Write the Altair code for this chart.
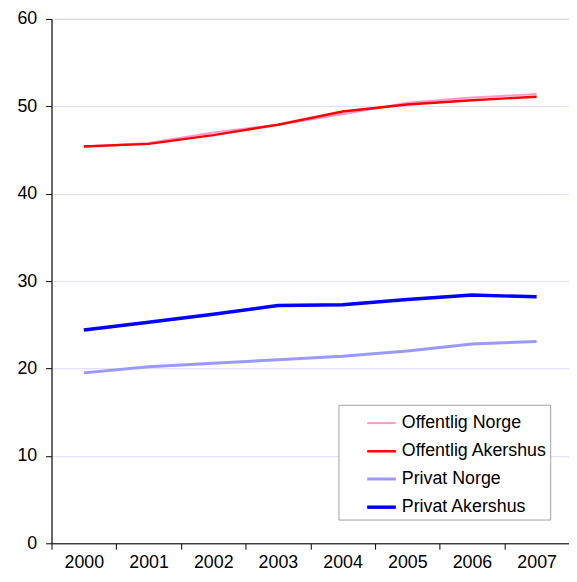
import altair as alt
import pandas as pd

years = ["2000", "2001", "2002", "2003", "2004", "2005", "2006", "2007"]
series_names = ["Offentlig Norge", "Offentlig Akershus", "Privat Norge", "Privat Akershus"]
offentlig_norge = [45.4, 45.8, 47.0, 47.9, 49.1, 50.4, 51.0, 51.4]
offentlig_akershus = [45.4, 45.7, 46.7, 47.9, 49.4, 50.2, 50.7, 51.1]
privat_norge = [19.5, 20.2, 20.6, 21.0, 21.4, 22.0, 22.8, 23.1]
privat_akershus = [24.4, 25.3, 26.2, 27.2, 27.3, 27.9, 28.4, 28.2]
colors = ["#FF99CC", "#FF0000", "#9999FF", "#0000FF"]
widths = [2, 3.5, 2, 3.5]
y_ticks = [0, 10, 20, 30, 40, 50, 60]

rows = []
for name, vals in zip(series_names,
                      [offentlig_norge, offentlig_akershus, privat_norge, privat_akershus]):
    for yr, v in zip(years, vals):
        rows.append({"year": yr, "value": v, "serie": name})
df = pd.DataFrame(rows)

FONT = "Liberation Sans"

legend = alt.Legend(
    title=None, orient="none", legendX=290, legendY=390,
    symbolType="stroke", symbolSize=841, symbolOffset=24,
    labelFontSize=18, labelFont=FONT, labelColor="black", labelLimit=400,
    labelOffset=4, rowPadding=3, padding=3,
    strokeColor="#A0A0A0", fillColor="white",
    labelExpr="datum.label + '\u00a0\u00a0\u00a0\u00a0\u00a0'",
)

chart = alt.Chart(df).mark_line().encode(
    x=alt.X("year:O", sort=years,
            scale=alt.Scale(type="band", paddingInner=0, paddingOuter=0),
            axis=alt.Axis(title=None, labelAngle=0, tickBand="extent", grid=False,
                          domainColor="black", tickColor="black", tickSize=6,
                          labelPadding=4, labelFontSize=18, labelFont=FONT,
                          labelColor="black")),
    y=alt.Y("value:Q", scale=alt.Scale(domain=[0, 60], nice=False),
            axis=alt.Axis(title=None, values=y_ticks, grid=True, gridColor="#DDDDFF",
                          domainColor="black", tickColor="black", tickSize=6,
                          labelPadding=9, labelFontSize=18, labelFont=FONT,
                          labelColor="black")),
    color=alt.Color("serie:N", sort=series_names,
                    scale=alt.Scale(domain=series_names, range=colors), legend=legend),
    strokeWidth=alt.StrokeWidth("serie:N", sort=series_names,
                                scale=alt.Scale(domain=series_names, range=widths),
                                legend=legend),
).properties(
    width=523, height=530,
    autosize=alt.AutoSizeParams(type="none"),
    padding={"left": 44, "top": 8, "right": 0, "bottom": 28},
).configure_view(stroke="#A0A0A0")

chart.save("out.html", embed_options={"renderer": "svg", "actions": False})
